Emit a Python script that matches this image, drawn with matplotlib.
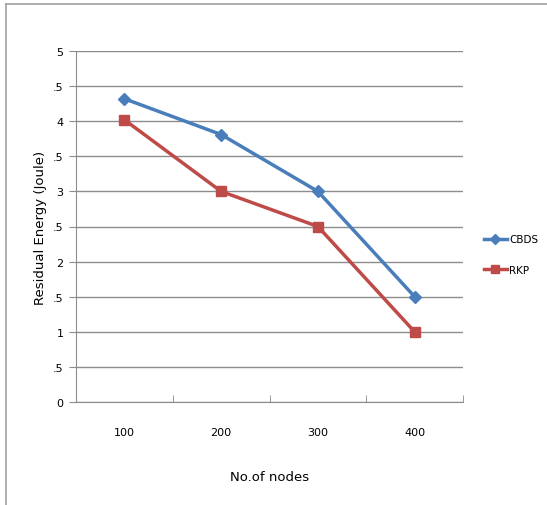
import matplotlib
matplotlib.use("Agg")
import matplotlib.pyplot as plt
from matplotlib.lines import Line2D

# data
nodes = ["100", "200", "300", "400"]
cbds = [4.32, 3.81, 3.0, 1.5]
rkp = [4.02, 3.0, 2.5, 1.0]
y_ticks = [0, 0.5, 1, 1.5, 2, 2.5, 3, 3.5, 4, 4.5, 5]
y_labels = ["0", ".5", "1", ".5", "2", ".5", "3", ".5", "4", ".5", "5"]

GRID = "#8c8c8c"
BLUE = "#4a7ebb"
RED = "#be4b48"

fig = plt.figure(figsize=(5.47, 5.06), dpi=100)
ax = fig.add_axes([76 / 547, 1 - 403 / 506, 387 / 547, 351 / 506])

x = range(len(nodes))
ax.plot(x, cbds, color=BLUE, lw=2.5, marker="D", ms=6, label="CBDS")
ax.plot(x, rkp, color=RED, lw=2.5, marker="s", ms=7, label="RKP")

ax.set_xlim(-0.5, len(nodes) - 0.5)
ax.set_ylim(0, 5)
ax.set_yticks(y_ticks)
ax.set_yticklabels(y_labels)
ax.set_xticks(list(x))
ax.set_xticklabels(nodes)
ax.set_xticks([i - 0.5 for i in range(len(nodes) + 1)], minor=True)
ax.tick_params(axis="x", which="major", length=0, pad=18, labelsize=8)
ax.tick_params(axis="x", which="minor", length=5, color=GRID, direction="in")
ax.tick_params(axis="y", length=5, color=GRID, labelsize=8, pad=4)
ax.yaxis.grid(True, color=GRID, lw=1)
ax.set_axisbelow(True)
for side in ("top", "right"):
    ax.spines[side].set_visible(False)
for side in ("left", "bottom"):
    ax.spines[side].set_color(GRID)

ax.set_ylabel("Residual Energy (Joule)", fontsize=9.5, labelpad=4)
ax.set_xlabel("No.of nodes", fontsize=9.5, labelpad=24)

ax.legend(loc="center left", bbox_to_anchor=(1.03, 0.42), frameon=False,
          fontsize=7.5, handlelength=2.2, labelspacing=2.0, handletextpad=0.2,
          markerscale=0.8)

# outer chart frame (top and left edges only visible)
fig.add_artist(Line2D([6 / 547, 1], [1 - 5 / 506, 1 - 5 / 506], color="#a0a0a0", lw=1.2))
fig.add_artist(Line2D([6 / 547, 6 / 547], [0, 1 - 5 / 506], color="#a0a0a0", lw=1.2))

fig.savefig("out.png", dpi=100)
